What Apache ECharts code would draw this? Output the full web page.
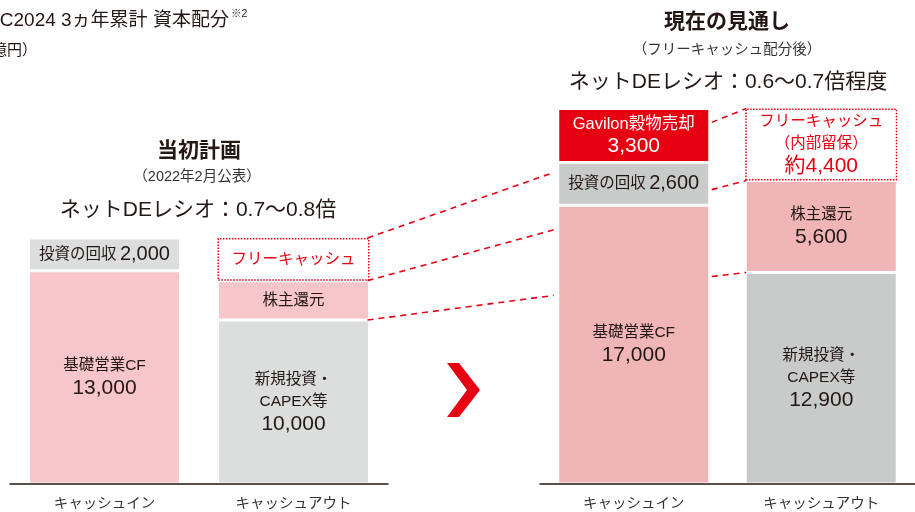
<!DOCTYPE html>
<html>
<head>
<meta charset="utf-8">
<script src="https://cdn.jsdelivr.net/npm/echarts@6/dist/echarts.min.js"></script>
<style>
  html, body { margin: 0; padding: 0; background: #fff; }
  #main { width: 915px; height: 512px; }
</style>
</head>
<body>
<div id="main"></div>
<script>
// 資本配分（億円）
const categories = ['キャッシュイン', 'キャッシュアウト'];
// 当初計画（2022年2月公表）
const planInNames = ['基礎営業CF', '投資の回収'];
const planInValues = [13000, 2000];
const planOutNames = ['新規投資・\nCAPEX等', '株主還元', 'フリーキャッシュ'];
const planOutValues = [10000, 2400, 2600];
// 現在の見通し（フリーキャッシュ配分後）
const nowInNames = ['基礎営業CF', '投資の回収', 'Gavilon穀物売却'];
const nowInValues = [17000, 2600, 3300];
const nowOutNames = ['新規投資・\nCAPEX等', '株主還元', 'フリーキャッシュ\n（内部留保）'];
const nowOutValues = [12900, 5600, 4400];
// 破線でつなぐ高さ（始点の値, 終点の値）
const planToNowLinks = [[15000, 19000], [12400, 15500], [10000, 11500]];
const inToOutLinks = [[22050, 22900], [17950, 18500], [12650, 12900]];

const FONT = '"Liberation Sans", "Noto Sans CJK JP", sans-serif';
const RED = '#e60012';
const TEXT = '#231815';
const BAR_W = 152;

// 各セグメントの見た目（色, ラベルの出し方）
const planInStyle = [['#f7c6ca', 'stack'], ['#dcdddd', 'inline']];
const planOutStyle = [['#dcdddd', 'stack'], ['#f7c6ca', 'name'], ['free', 'name']];
const nowInStyle = [['#f0b5b7', 'stack'], ['#c9caca', 'inline'], [RED, 'stack']];
const nowOutStyle = [['#c9caca', 'stack'], ['#f0b5b7', 'stack'], ['free', 'approx']];

function fmt(n) {
  return n.toLocaleString('en-US');
}

function labelText(name, value, mode) {
  const lines = name.split('\n').map(function (s) { return '{n|' + s + '}'; });
  if (mode === 'name') return lines.join('\n');
  if (mode === 'inline') return lines.join('\n') + ' {w|' + fmt(value) + '}';
  const v = '{v|' + (mode === 'approx' ? '約' : '') + fmt(value) + '}';
  return lines.concat(v).join('\n');
}

function segItem(names, values, styles, i) {
  if (values[i] == null) return '-';
  const color = styles[i][0];
  const mode = styles[i][1];
  const isFree = color === 'free';
  const txtColor = isFree ? RED : (color === RED ? '#fff' : TEXT);
  const nameSize = color === RED ? 16.5 : 15.5;
  return {
    value: values[i],
    itemStyle: isFree
      ? { color: '#fff', borderColor: RED, borderType: 'dotted', borderWidth: 1.5 }
      : { color: color, borderColor: '#fff', borderWidth: 1.5 },
    label: {
      show: true,
      position: 'inside',
      formatter: function () { return labelText(names[i], values[i], mode); },
      rich: {
        n: { fontSize: nameSize, lineHeight: 22, color: txtColor, fontFamily: FONT },
        v: { fontSize: 21, lineHeight: 23, color: txtColor, fontFamily: FONT },
        w: { fontSize: 20, lineHeight: 22, color: txtColor, fontFamily: FONT }
      }
    }
  };
}

function buildSeries(gridIdx, stack, inNames, inValues, inStyle, outNames, outValues, outStyle) {
  const list = [];
  const layers = Math.max(inValues.length, outValues.length);
  for (let i = 0; i < layers; i++) {
    list.push({
      type: 'bar',
      stack: stack,
      xAxisIndex: gridIdx,
      yAxisIndex: gridIdx,
      barWidth: BAR_W,
      animation: false,
      data: [
        segItem(inNames, inValues, inStyle, i),
        segItem(outNames, outValues, outStyle, i)
      ]
    });
  }
  return list;
}

const xAxisBase = {
  type: 'category',
  data: categories,
  z: 10,
  axisLine: { lineStyle: { color: TEXT, width: 1.5 } },
  axisTick: { show: false },
  axisLabel: { fontSize: 14.5, color: '#333', margin: 13, fontFamily: FONT }
};
const yAxisBase = { type: 'value', min: 0, max: 25000, show: false };

const option = {
  backgroundColor: '#fff',
  grid: [
    { left: 10, width: 378, top: 74, bottom: 28 },
    { left: 540, width: 378, top: 74, bottom: 28 }
  ],
  xAxis: [
    Object.assign({ gridIndex: 0 }, xAxisBase),
    Object.assign({ gridIndex: 1 }, xAxisBase)
  ],
  yAxis: [
    Object.assign({ gridIndex: 0 }, yAxisBase),
    Object.assign({ gridIndex: 1 }, yAxisBase)
  ],
  series: buildSeries(0, 'plan', planInNames, planInValues, planInStyle, planOutNames, planOutValues, planOutStyle)
    .concat(buildSeries(1, 'now', nowInNames, nowInValues, nowInStyle, nowOutNames, nowOutValues, nowOutStyle))
};

const chart = echarts.init(document.getElementById('main'), null, { renderer: 'canvas' });
chart.setOption(option);

// 見出し・破線などの装飾
function txt(text, x, y, size, opts) {
  opts = opts || {};
  return {
    type: 'text',
    x: x,
    y: y,
    z: 20,
    style: {
      text: text,
      fill: opts.color || TEXT,
      font: (opts.bold ? 'bold ' : '') + size + 'px ' + FONT,
      textAlign: opts.align || 'center',
      align: opts.align || 'center',
      textVerticalAlign: 'middle',
      verticalAlign: 'middle'
    }
  };
}

function px(gridIdx, cat, v) {
  return chart.convertToPixel({ gridIndex: gridIdx }, [cat, v]);
}

function dashed(a, b) {
  return {
    type: 'line',
    z: 15,
    shape: { x1: a[0], y1: a[1], x2: b[0], y2: b[1] },
    style: { stroke: RED, lineWidth: 1.6, lineDash: [6, 5] }
  };
}

const graphics = [
  txt('GC2024 3ヵ年累計 資本配分', -15, 21, 19, { align: 'left' }),
  txt('※2', 231, 14, 10.5, { align: 'left' }),
  txt('（億円）', 37, 51, 15, { align: 'right' }),
  txt('当初計画', 199, 151, 21, { bold: true }),
  txt('（2022年2月公表）', 197, 177, 14.5, { color: '#333' }),
  txt('ネットDEレシオ：0.7～0.8倍', 198, 210, 21),
  txt('現在の見通し', 727, 22, 21, { bold: true }),
  txt('（フリーキャッシュ配分後）', 727, 50, 14.5, { color: '#333' }),
  txt('ネットDEレシオ：0.6～0.7倍程度', 728, 82, 21),
  {
    type: 'polygon',
    z: 20,
    shape: { points: [[447, 363], [459, 363], [480, 390], [459, 417], [447, 417], [467, 390]] },
    style: { fill: RED }
  }
];

planToNowLinks.forEach(function (l) {
  const a = px(0, 1, l[0]);
  const b = px(1, 0, l[1]);
  graphics.push(dashed([a[0] + BAR_W / 2 - 2, a[1]], [b[0] - BAR_W / 2 - 4, b[1]]));
});
inToOutLinks.forEach(function (l) {
  const a = px(1, 0, l[0]);
  const b = px(1, 1, l[1]);
  graphics.push(dashed([a[0] + BAR_W / 2 + 2, a[1]], [b[0] - BAR_W / 2 + 1, b[1]]));
});

chart.setOption({ graphic: graphics });
</script>
</body>
</html>
